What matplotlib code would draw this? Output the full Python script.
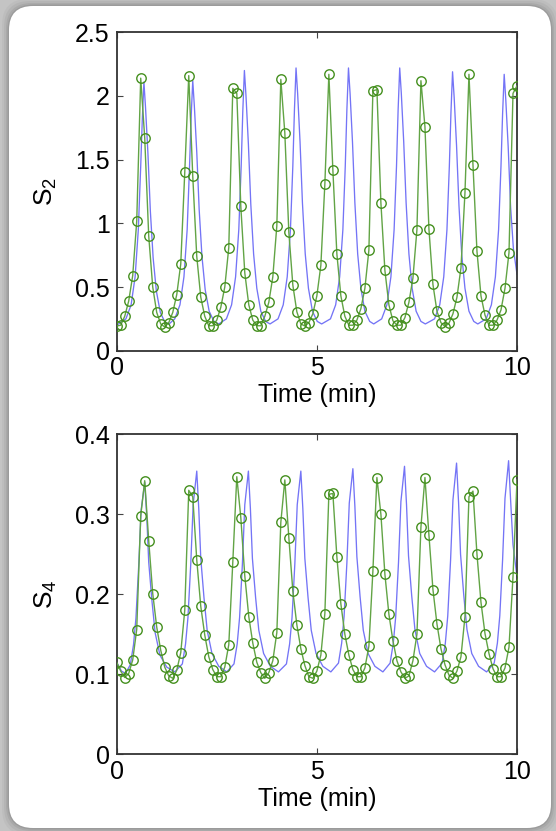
import matplotlib
matplotlib.use("Agg")
import matplotlib.pyplot as plt
from matplotlib.patches import FancyBboxPatch

plt.rcParams['font.family'] = ['Liberation Sans', 'DejaVu Sans']

# sampling instants of the stochastic trajectories (min)
sample_times = [
    0.0, 0.1, 0.2, 0.3, 0.4, 0.5, 0.6, 0.7, 0.8, 0.9,
    1.0, 1.1, 1.2, 1.3, 1.4, 1.5, 1.6, 1.7, 1.8, 1.9,
    2.0, 2.1, 2.2, 2.3, 2.4, 2.5, 2.6, 2.7, 2.8, 2.9,
    3.0, 3.1, 3.2, 3.3, 3.4, 3.5, 3.6, 3.7, 3.8, 3.9,
    4.0, 4.1, 4.2, 4.3, 4.4, 4.5, 4.6, 4.7, 4.8, 4.9,
    5.0, 5.1, 5.2, 5.3, 5.4, 5.5, 5.6, 5.7, 5.8, 5.9,
    6.0, 6.1, 6.2, 6.3, 6.4, 6.5, 6.6, 6.7, 6.8, 6.9,
    7.0, 7.1, 7.2, 7.3, 7.4, 7.5, 7.6, 7.7, 7.8, 7.9,
    8.0, 8.1, 8.2, 8.3, 8.4, 8.5, 8.6, 8.7, 8.8, 8.9,
    9.0, 9.1, 9.2, 9.3, 9.4, 9.5, 9.6, 9.7, 9.8, 9.9,
    10.0,
]

s2_sampled = [
    0.194, 0.20, 0.27, 0.39, 0.59, 1.015, 2.14, 1.67, 0.90, 0.50,
    0.30, 0.21, 0.186, 0.22, 0.30, 0.44, 0.68, 1.40, 2.16, 1.37,
    0.74, 0.42, 0.27, 0.196, 0.196, 0.24, 0.34, 0.50, 0.81, 2.06,
    2.02, 1.135, 0.61, 0.36, 0.24, 0.196, 0.196, 0.27, 0.38, 0.58,
    0.98, 2.13, 1.71, 0.93, 0.515, 0.306, 0.21, 0.194, 0.22, 0.29,
    0.43, 0.67, 1.31, 2.17, 1.42, 0.76, 0.43, 0.27, 0.20, 0.20,
    0.24, 0.33, 0.49, 0.79, 2.04, 2.05, 1.16, 0.63, 0.36, 0.235,
    0.20, 0.20, 0.26, 0.38, 0.57, 0.95, 2.12, 1.76, 0.955, 0.52,
    0.31, 0.22, 0.19, 0.215, 0.29, 0.42, 0.65, 1.24, 2.17, 1.46,
    0.78, 0.43, 0.28, 0.20, 0.20, 0.24, 0.32, 0.49, 0.77, 2.02,
    2.08,
]

s4_sampled = [
    0.115, 0.104, 0.096, 0.101, 0.118, 0.156, 0.298, 0.342, 0.267, 0.201,
    0.159, 0.130, 0.109, 0.098, 0.095, 0.105, 0.127, 0.180, 0.330, 0.322,
    0.243, 0.185, 0.149, 0.122, 0.106, 0.097, 0.097, 0.109, 0.137, 0.240,
    0.347, 0.296, 0.223, 0.172, 0.139, 0.115, 0.102, 0.095, 0.102, 0.117,
    0.152, 0.290, 0.343, 0.271, 0.204, 0.162, 0.132, 0.111, 0.097, 0.095,
    0.104, 0.124, 0.176, 0.325, 0.326, 0.247, 0.188, 0.150, 0.124, 0.106,
    0.097, 0.097, 0.108, 0.135, 0.229, 0.346, 0.300, 0.225, 0.175, 0.142,
    0.117, 0.103, 0.095, 0.098, 0.117, 0.150, 0.284, 0.346, 0.274, 0.206,
    0.163, 0.132, 0.112, 0.099, 0.095, 0.104, 0.122, 0.172, 0.322, 0.329,
    0.250, 0.190, 0.151, 0.126, 0.107, 0.097, 0.097, 0.108, 0.134, 0.222,
    0.343,
]

# deterministic (ODE) solution
s2_ode_t = [
    0.00, 0.23, 0.36, 0.46, 0.54, 0.60, 0.64, 0.68, 0.72, 0.78, 0.84, 0.91, 0.99, 1.09, 1.21, 1.31,
    1.45, 1.58, 1.68, 1.76, 1.82, 1.86, 1.90, 1.94, 2.00, 2.06, 2.13, 2.21, 2.31, 2.43, 2.55,
    2.74, 2.87, 2.97, 3.05, 3.11, 3.15, 3.19, 3.23, 3.29, 3.35, 3.42, 3.50, 3.60, 3.72, 3.83,
    4.03, 4.16, 4.26, 4.34, 4.40, 4.44, 4.48, 4.52, 4.58, 4.64, 4.71, 4.79, 4.89, 5.01, 5.12,
    5.34, 5.47, 5.57, 5.65, 5.71, 5.75, 5.79, 5.83, 5.89, 5.95, 6.02, 6.10, 6.20, 6.32, 6.42,
    6.62, 6.75, 6.85, 6.93, 6.99, 7.03, 7.07, 7.11, 7.17, 7.23, 7.30, 7.38, 7.48, 7.60, 7.71,
    7.94, 8.07, 8.17, 8.25, 8.31, 8.35, 8.39, 8.43, 8.49, 8.55, 8.62, 8.70, 8.80, 8.92, 9.02,
    9.23, 9.36, 9.46, 9.54, 9.60, 9.64, 9.68, 9.72, 9.78, 9.84, 9.91, 10.00,
]
s2_ode = [
    0.20, 0.25, 0.36, 0.58, 0.95, 1.45, 1.82, 2.11, 1.91, 1.55, 1.10, 0.73, 0.47, 0.30, 0.22, 0.21,
    0.25, 0.36, 0.58, 0.95, 1.45, 1.84, 2.12, 1.92, 1.56, 1.11, 0.74, 0.48, 0.31, 0.23, 0.21,
    0.25, 0.36, 0.58, 0.95, 1.45, 1.88, 2.20, 2.00, 1.62, 1.15, 0.76, 0.49, 0.31, 0.23, 0.21,
    0.25, 0.36, 0.58, 0.95, 1.45, 1.89, 2.22, 2.02, 1.64, 1.16, 0.76, 0.49, 0.31, 0.23, 0.21,
    0.25, 0.36, 0.58, 0.95, 1.45, 1.89, 2.22, 2.02, 1.64, 1.16, 0.76, 0.49, 0.31, 0.23, 0.21,
    0.25, 0.36, 0.58, 0.95, 1.45, 1.89, 2.22, 2.02, 1.64, 1.16, 0.76, 0.49, 0.31, 0.23, 0.21,
    0.25, 0.36, 0.58, 0.95, 1.45, 1.87, 2.19, 1.99, 1.61, 1.14, 0.75, 0.49, 0.31, 0.23, 0.21,
    0.25, 0.36, 0.58, 0.95, 1.45, 1.86, 2.17, 1.97, 1.60, 1.13, 0.80, 0.60,
]

s4_ode_t = [
    0.00, 0.12, 0.22, 0.34, 0.42, 0.48, 0.55, 0.61, 0.70, 0.75, 0.80, 0.88, 0.96, 1.08, 1.25, 1.45,
    1.64, 1.72, 1.78, 1.85, 1.91, 2.00, 2.05, 2.10, 2.18, 2.26, 2.38, 2.55, 2.75,
    2.93, 3.01, 3.07, 3.14, 3.20, 3.29, 3.34, 3.39, 3.47, 3.55, 3.67, 3.84, 4.04,
    4.24, 4.32, 4.38, 4.45, 4.51, 4.60, 4.65, 4.70, 4.78, 4.86, 4.98, 5.15, 5.35,
    5.54, 5.62, 5.68, 5.75, 5.81, 5.90, 5.95, 6.00, 6.08, 6.16, 6.28, 6.45, 6.65,
    6.83, 6.91, 6.97, 7.04, 7.10, 7.19, 7.24, 7.29, 7.37, 7.45, 7.57, 7.74, 7.94,
    8.13, 8.21, 8.27, 8.34, 8.40, 8.49, 8.54, 8.59, 8.67, 8.75, 8.87, 9.04, 9.24,
    9.43, 9.51, 9.57, 9.64, 9.70, 9.79, 9.84, 9.90, 10.00,
]
s4_ode = [
    0.115, 0.104, 0.101, 0.112, 0.137, 0.170, 0.236, 0.305, 0.340, 0.298, 0.240, 0.192, 0.152, 0.124, 0.109, 0.103,
    0.113, 0.138, 0.171, 0.238, 0.312, 0.354, 0.307, 0.245, 0.196, 0.155, 0.126, 0.110, 0.103,
    0.113, 0.138, 0.171, 0.238, 0.312, 0.354, 0.307, 0.245, 0.196, 0.155, 0.126, 0.110, 0.103,
    0.113, 0.138, 0.171, 0.238, 0.312, 0.354, 0.307, 0.245, 0.196, 0.155, 0.126, 0.110, 0.103,
    0.114, 0.139, 0.172, 0.239, 0.314, 0.357, 0.310, 0.247, 0.197, 0.155, 0.126, 0.110, 0.103,
    0.114, 0.139, 0.172, 0.240, 0.316, 0.360, 0.312, 0.248, 0.198, 0.156, 0.126, 0.110, 0.103,
    0.114, 0.139, 0.173, 0.242, 0.318, 0.364, 0.315, 0.250, 0.199, 0.156, 0.126, 0.110, 0.103,
    0.114, 0.139, 0.173, 0.243, 0.320, 0.367, 0.318, 0.262, 0.222,
]

x_ticks = [0, 5, 10]
s2_ticks = [0, 0.5, 1, 1.5, 2, 2.5]
s2_ticklabels = ["0", "0.5", "1", "1.5", "2", "2.5"]
s4_ticks = [0, 0.1, 0.2, 0.3, 0.4]
s4_ticklabels = ["0", "0.1", "0.2", "0.3", "0.4"]

W, H = 556, 831
fig = plt.figure(figsize=(W / 100, H / 100), dpi=100)
fig.patch.set_facecolor('#c4c4c4')

# soft shadow and white rounded card behind the plots
for grow, alpha in [(7, 0.05), (5, 0.07), (3, 0.10), (1.5, 0.14)]:
    fig.patches.append(FancyBboxPatch(
        ((9 - grow) / 100, (3 - grow) / 100), (542 + 2 * grow) / 100, (822 + 2 * grow) / 100,
        boxstyle="round,pad=0,rounding_size=0.26", transform=fig.dpi_scale_trans,
        facecolor='#4a4a4a', edgecolor='none', alpha=alpha, zorder=-3))
fig.patches.append(FancyBboxPatch(
    (9 / 100, 3 / 100), 542 / 100, 822 / 100,
    boxstyle="round,pad=0,rounding_size=0.24", transform=fig.dpi_scale_trans,
    facecolor='white', edgecolor='none', zorder=-2))

ode_color = '#7474f6'
ssa_color = '#45901f'
ssa_line = '#62a445'

def draw_panel(ax, t_ode, y_ode, y_ssa, yticks, yticklabels, ylim, ylabel):
    ax.set_facecolor('white')
    ax.plot(t_ode, y_ode, color=ode_color, lw=0.95, zorder=2)
    ax.plot(sample_times, y_ssa, color=ssa_line, lw=1.0, zorder=3)
    ax.plot(sample_times, y_ssa, ls='none', marker='o', ms=6.8, mfc='none',
            mec=ssa_color, mew=1.0, zorder=4)
    ax.set_xlim(0, 10)
    ax.set_ylim(*ylim)
    ax.set_xticks(x_ticks)
    ax.set_xticklabels([str(v) for v in x_ticks])
    ax.set_yticks(yticks)
    ax.set_yticklabels(yticklabels)
    ax.tick_params(direction='in', length=4, width=0.8, color='#444444',
                   top=True, right=True, labelsize=18, labelcolor='black')
    ax.tick_params(axis='x', pad=4)
    ax.tick_params(axis='y', pad=5)
    for sp in ax.spines.values():
        sp.set_color('#333333')
        sp.set_linewidth(1.3)
    ax.set_xlabel('Time (min)', fontsize=18, labelpad=2)
    ax.set_ylabel(ylabel, fontsize=19)
    ax.yaxis.set_label_coords(-0.145, 0.5)

ax1 = fig.add_axes([116.7 / W, 1 - 350.7 / H, 400.3 / W, 318.4 / H])
draw_panel(ax1, s2_ode_t, s2_ode, s2_sampled, s2_ticks, s2_ticklabels, (0, 2.5),
           r'S$_{\mathregular{2}}$')

ax2 = fig.add_axes([116.7 / W, 1 - 754.3 / H, 400.3 / W, 320.0 / H])
draw_panel(ax2, s4_ode_t, s4_ode, s4_sampled, s4_ticks, s4_ticklabels, (0, 0.4),
           r'S$_{\mathregular{4}}$')

fig.savefig('out.png', dpi=100)
